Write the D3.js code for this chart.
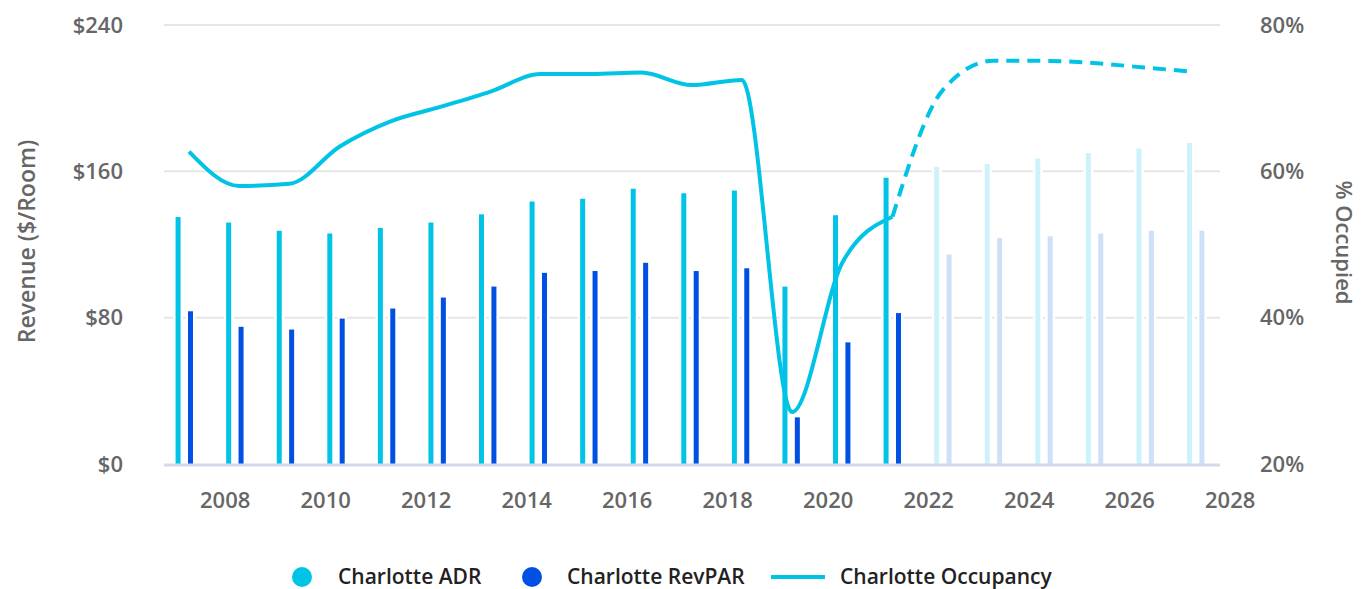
<!DOCTYPE html>
<html>
<head>
<meta charset="utf-8">
<script src="https://cdn.jsdelivr.net/npm/d3@7"></script>
<style>
  body { margin: 0; background: #fff; }
  svg text { font-family: "Open Sans", sans-serif; }
</style>
</head>
<body>
<div id="viz"></div>
<script>
// Charlotte hotel performance: ADR, RevPAR ($/room) and occupancy (%)
var years = [2007, 2008, 2009, 2010, 2011, 2012, 2013, 2014, 2015, 2016, 2017,
             2018, 2019, 2020, 2021, 2022, 2023, 2024, 2025, 2026, 2027];
var adr = [135, 132, 127.5, 126, 129, 132, 136.5, 143.5, 145, 150.5, 148,
           149.5, 97, 136, 156.5, 162.5, 164, 167, 170, 172.5, 175.5];
var revpar = [83.5, 75, 73.5, 79.5, 85, 91, 97, 104.5, 105.5, 110, 105.5,
              107, 25.5, 66.5, 82.5, 114.5, 123.5, 124.5, 126, 127.5, 127.5];
var occupancy = [62.7, 58.0, 58.3, 63.4, 66.8, 68.8, 70.9, 73.3, 73.3, 73.5, 71.8,
                 72.5, 27.1, 47.5, 53.8, 71.1, 75.1, 75.1, 74.8, 74.2, 73.6];
var firstForecastYear = 2022;
var xTicks = [2008, 2010, 2012, 2014, 2016, 2018, 2020, 2022, 2024, 2026, 2028];
var revTicks = [0, 80, 160, 240];
var occTicks = [20, 40, 60, 80];

var width = 1361, height = 589;
var margin = {left: 164, right: 1220, top: 25, bottom: 464};

var cADR = "#00c3e6", cRev = "#0050e3";
var cADRf = "#cdf2fa", cRevf = "#cde0f7";

var svg = d3.select("#viz").append("svg")
    .attr("width", width).attr("height", height);

// scales
var xBand = d3.scaleBand().domain(years).range([159, 1221]);
var xTime = d3.scaleLinear().domain([2006.792, 2027.807]).range([margin.left, margin.right]);
var y = d3.scaleLinear().domain([0, 240]).range([margin.bottom, margin.top]);
var yOcc = d3.scaleLinear().domain([20, 80]).range([margin.bottom, margin.top]);

// gridlines
svg.append("g")
  .selectAll("line")
  .data(revTicks.filter(d => d > 0))
  .enter().append("line")
    .attr("x1", margin.left).attr("x2", margin.right)
    .attr("y1", d => y(d)).attr("y2", d => y(d))
    .attr("stroke", "#e6e6e6").attr("stroke-width", 2);

// bars
var rows = years.map((yr, i) => ({year: yr, adr: adr[i], revpar: revpar[i]}));
var barW = 5;
function drawBars(key, shift, col, colF) {
  svg.append("g")
    .selectAll("rect")
    .data(rows)
    .enter().append("rect")
      .attr("x", d => xBand(d.year) + xBand.bandwidth() / 2 + shift - barW / 2)
      .attr("y", d => y(d[key]))
      .attr("width", barW)
      .attr("height", d => y(0) - y(d[key]))
      .attr("fill", d => d.year >= firstForecastYear ? colF : col)
      .attr("stroke", "#fff").attr("stroke-width", 5)
      .style("paint-order", "stroke");
}
drawBars("adr", -6.2, cADR, cADRf);
drawBars("revpar", 6.2, cRev, cRevf);

// baseline
svg.append("line")
  .attr("x1", margin.left).attr("x2", margin.right)
  .attr("y1", y(0) + 1).attr("y2", y(0) + 1)
  .attr("stroke", "#d3d9ea").attr("stroke-width", 3);

// occupancy line (actual solid, forecast dashed)
var occ = years.map((yr, i) => ({year: yr, v: occupancy[i]}));
var line = d3.line()
  .x(d => xTime(d.year + 0.29))
  .y(d => yOcc(d.v))
  .curve(d3.curveMonotoneX);

svg.append("path")
  .datum(occ.filter(d => d.year < firstForecastYear))
  .attr("d", line)
  .attr("fill", "none").attr("stroke", cADR).attr("stroke-width", 4);

svg.append("path")
  .datum(occ.filter(d => d.year >= firstForecastYear - 1))
  .attr("d", line)
  .attr("fill", "none").attr("stroke", cADR).attr("stroke-width", 4)
  .attr("stroke-dasharray", "13,8");

// axes
var axisFont = function(g) {
  g.select(".domain").remove();
  g.selectAll("text")
    .style("font-size", "22px").style("font-weight", "600")
    .attr("fill", "#666");
};

svg.append("g")
  .attr("transform", "translate(0," + margin.bottom + ")")
  .call(d3.axisBottom(xTime).tickValues(xTicks).tickFormat(d3.format("d")).tickSize(0).tickPadding(28))
  .call(axisFont);

svg.append("g")
  .attr("transform", "translate(123,0)")
  .call(d3.axisLeft(y).tickValues(revTicks).tickFormat(d => "$" + d).tickSize(0).tickPadding(0))
  .call(axisFont);

svg.append("g")
  .attr("transform", "translate(1260,0)")
  .call(d3.axisRight(yOcc).tickValues(occTicks).tickFormat(d => d + "%").tickSize(0).tickPadding(0))
  .call(axisFont);

// axis titles
var midY = (margin.top + margin.bottom) / 2;
svg.append("text")
  .attr("transform", "translate(35," + (midY - 3) + ") rotate(-90)")
  .attr("text-anchor", "middle")
  .style("font-size", "23px").style("font-weight", "600")
  .attr("fill", "#666")
  .text("Revenue ($/Room)");

svg.append("text")
  .attr("transform", "translate(1336," + (midY - 2) + ") rotate(90)")
  .attr("text-anchor", "middle")
  .style("font-size", "22px").style("font-weight", "600")
  .attr("fill", "#666")
  .text("% Occupied");

// legend
var legY = 577;
var lg = svg.append("g");
lg.append("circle").attr("cx", 302).attr("cy", legY).attr("r", 10).attr("fill", cADR);
lg.append("text").attr("x", 338).attr("y", legY).attr("dy", "0.35em")
  .style("font-size", "21px").style("font-weight", "600").attr("fill", "#222")
  .text("Charlotte ADR");
lg.append("circle").attr("cx", 532).attr("cy", legY).attr("r", 10).attr("fill", cRev);
lg.append("text").attr("x", 567).attr("y", legY).attr("dy", "0.35em")
  .style("font-size", "21px").style("font-weight", "600").attr("fill", "#222")
  .text("Charlotte RevPAR");
lg.append("line").attr("x1", 771).attr("x2", 825).attr("y1", legY).attr("y2", legY)
  .attr("stroke", cADR).attr("stroke-width", 4);
lg.append("text").attr("x", 840).attr("y", legY).attr("dy", "0.35em")
  .style("font-size", "21px").style("font-weight", "600").attr("fill", "#222")
  .text("Charlotte Occupancy");
</script>
</body>
</html>
